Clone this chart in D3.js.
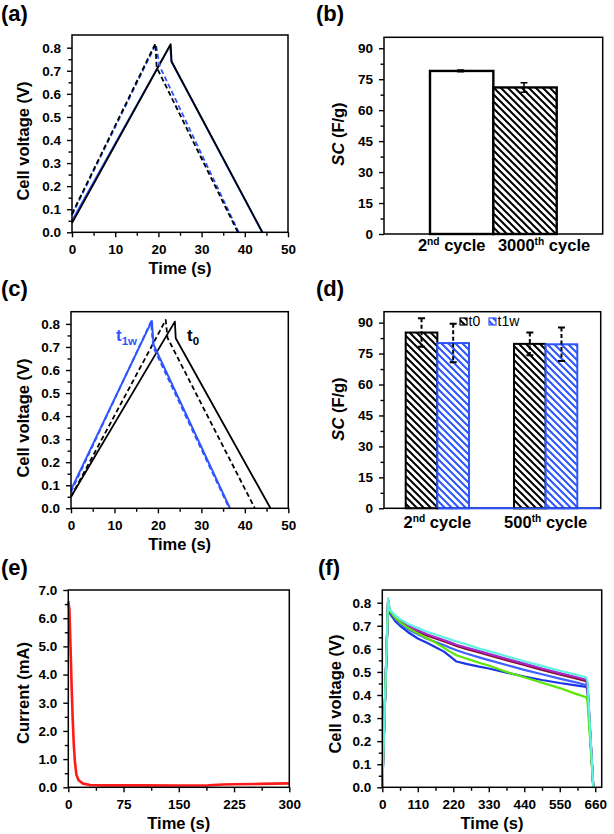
<!DOCTYPE html>
<html><head><meta charset="utf-8">
<script src="https://cdn.jsdelivr.net/npm/d3@7"></script>
<style>
body{margin:0;background:#fff;}
svg{display:block;}
</style></head><body>
<script>
// ---------------- DATA ----------------
const voltTicks = [0, 0.1, 0.2, 0.3, 0.4, 0.5, 0.6, 0.7, 0.8];
const voltMinor = [0.05, 0.15, 0.25, 0.35, 0.45, 0.55, 0.65, 0.75];
const timeTicksAC = [0, 10, 20, 30, 40, 50];
const timeMinorAC = [5, 15, 25, 35, 45];
const scTicks = [0, 15, 30, 45, 60, 75, 90];
const scMinor = [7.5, 22.5, 37.5, 52.5, 67.5, 82.5];
const timeTicksE = [0, 75, 150, 225, 300];
const timeMinorE = [37.5, 112.5, 187.5, 262.5];
const currentTicks = [0, 1, 2, 3, 4, 5, 6, 7];
const currentMinor = [0.5, 1.5, 2.5, 3.5, 4.5, 5.5, 6.5];
const timeTicksF = [0, 110, 220, 330, 440, 550, 660];
const timeMinorF = [55, 165, 275, 385, 495, 605];

// (a) galvanostatic charge/discharge [time s, voltage V]
const aBlueSolid   = [[0, 0.05], [22.7, 0.81], [23.0, 0.74], [44.0, 0]];
const aBlackSolid  = [[0, 0.04], [22.85, 0.815], [23.05, 0.74], [44.1, 0]];
const aBlueDashed  = [[0, 0.075], [19.4, 0.815], [20.3, 0.72], [38.6, 0]];
const aBlackDashed = [[0, 0.08], [19.3, 0.818], [19.6, 0.715], [38.4, 0]];

// (b) specific capacitance
const bCategories = ["2nd", "3000th"];
const bLabels = [["2", "nd"], ["3000", "th"]];
const bValues = [79, 71];
const bErrors = [0.4, 2.3];

// (c) t0 vs t1w
const cBlackSolid  = [[0, 0.05], [23.9, 0.81], [24.1, 0.738], [45.9, 0]];
const cBlackDashed = [[0, 0.05], [21.8, 0.817], [22.2, 0.74], [42.3, 0]];
const cBlueDashed  = [[0, 0.07], [18.4, 0.81], [18.9, 0.70], [36.4, 0]];
const cBlueSolid   = [[0, 0.08], [18.6, 0.813], [19.0, 0.71], [36.6, 0]];

// (d) grouped bars
const dGroups = ["2nd", "500th"];
const dLabels = [["2", "nd"], ["500", "th"]];
const dSeries = ["t0", "t1w"];
const dT0 = [85.2, 79.7];
const dT0Err = [6.9, 5.5];
const dT1w = [80.1, 79.5];
const dT1wErr = [9.3, 8.1];

// (e) current vs time
const eTime    = [0, 1.5, 3, 4.5, 6, 7.5, 9, 11, 14, 20, 30, 50, 100, 150, 190, 210, 225, 260, 300];
const eCurrent = [6.6, 6.3, 5.0, 3.6, 2.4, 1.5, 0.9, 0.45, 0.25, 0.13, 0.08, 0.07, 0.07, 0.065, 0.07, 0.10, 0.11, 0.12, 0.14];

// (f) long discharge curves
const fTime = [0, 18, 23, 40, 55, 80, 110, 140, 165, 190, 210, 230, 260, 300, 330, 385, 440, 495, 550, 600, 632, 636, 654];
const fDarkBlue  = [0, 0.80, 0.754, 0.72, 0.70, 0.672, 0.645, 0.625, 0.607, 0.589, 0.567, 0.545, 0.535, 0.523, 0.515, 0.497, 0.480, 0.465, 0.452, 0.442, 0.435, 0.42, 0];
const fRoyalBlue = [0, 0.81, 0.758, 0.728, 0.708, 0.685, 0.663, 0.643, 0.630, 0.617, 0.605, 0.594, 0.580, 0.563, 0.551, 0.530, 0.509, 0.490, 0.471, 0.455, 0.443, 0.43, 0];
const fMaroon    = [0, 0.81, 0.762, 0.735, 0.716, 0.695, 0.675, 0.657, 0.645, 0.633, 0.623, 0.613, 0.600, 0.584, 0.572, 0.551, 0.530, 0.509, 0.489, 0.472, 0.460, 0.44, 0];
const fMagenta   = [0, 0.81, 0.765, 0.738, 0.72, 0.70, 0.68, 0.662, 0.65, 0.638, 0.628, 0.618, 0.606, 0.59, 0.578, 0.557, 0.536, 0.515, 0.495, 0.478, 0.466, 0.45, 0];
const fGreen     = [0, 0.81, 0.765, 0.735, 0.715, 0.69, 0.667, 0.645, 0.627, 0.605, 0.588, 0.572, 0.558, 0.540, 0.528, 0.50, 0.477, 0.453, 0.43, 0.405, 0.39, 0.37, 0];
const fCyan      = [0, 0.82, 0.77, 0.745, 0.728, 0.708, 0.690, 0.673, 0.662, 0.650, 0.641, 0.632, 0.620, 0.601, 0.590, 0.568, 0.546, 0.526, 0.505, 0.488, 0.477, 0.46, 0];

// ---------------- LAYOUT / STYLE ----------------
const FONT = '"Liberation Sans", Arial, Helvetica, sans-serif';
const BLUE = "#2d55ff";
const svg = d3.select("body").append("svg").attr("width", 614).attr("height", 834)
  .style("font-family", FONT);

const F = {
  a: {l: 72, r: 288, t: 35, b: 232.3},
  b: {l: 384, r: 602.7, t: 37.3, b: 234},
  c: {l: 71, r: 288.3, t: 311.7, b: 508.3},
  d: {l: 384, r: 600.7, t: 311.7, b: 508.3},
  e: {l: 68.3, r: 289.3, t: 590, b: 787.3},
  f: {l: 382.3, r: 601.7, t: 590, b: 787.3}
};

const defs = svg.append("defs");
function hatch(id, color) {
  const p = defs.append("pattern").attr("id", id).attr("patternUnits", "userSpaceOnUse")
    .attr("width", 7).attr("height", 7);
  p.append("rect").attr("width", 7).attr("height", 7).attr("fill", "#fff");
  p.append("path").attr("d", "M-1,-1 L8,8 M-1,6 L1,8 M6,-1 L8,1")
    .attr("stroke", color).attr("stroke-width", 2);
}
hatch("hK", "#000");
hatch("hB", BLUE);

function styleAxis(s) {
  s.select(".domain").remove();
  s.selectAll("line").attr("stroke", "#000").attr("stroke-width", 1.4);
  s.selectAll("text").attr("font-family", FONT).attr("font-weight", "bold")
    .attr("font-size", 13.5).attr("fill", "#000");
}

function axes(f, x, y, o) {
  const g = svg.append("g");
  if (o.xt) {
    g.append("g").attr("transform", `translate(0,${f.b})`)
      .call(d3.axisBottom(x).tickValues(o.xt).tickSize(5).tickPadding(7).tickFormat(o.xf)).call(styleAxis);
    g.append("g").attr("transform", `translate(0,${f.b})`)
      .call(d3.axisBottom(x).tickValues(o.xm).tickSize(3.5).tickFormat("")).call(styleAxis);
  }
  g.append("g").attr("transform", `translate(${f.l},0)`)
    .call(d3.axisLeft(y).tickValues(o.yt).tickSize(5).tickPadding(6).tickFormat(o.yf)).call(styleAxis);
  g.append("g").attr("transform", `translate(${f.l},0)`)
    .call(d3.axisLeft(y).tickValues(o.ym).tickSize(3.5).tickFormat("")).call(styleAxis);
}

function frame(f) {
  svg.append("rect").attr("x", f.l).attr("y", f.t).attr("width", f.r - f.l).attr("height", f.b - f.t)
    .attr("fill", "none").attr("stroke", "#000").attr("stroke-width", 1.5);
}

function panelLabel(txt, x, y) {
  svg.append("text").attr("x", x).attr("y", y).attr("font-size", 22).attr("font-weight", "bold").text(txt);
}
function xTitle(f, txt) {
  svg.append("text").attr("x", (f.l + f.r) / 2).attr("y", f.b + 42).attr("text-anchor", "middle")
    .attr("font-size", 16.5).attr("font-weight", "bold").text(txt);
}
function yTitle(x, y, parts) {
  const t = svg.append("text").attr("transform", `translate(${x},${y}) rotate(-90)`)
    .attr("text-anchor", "middle").attr("font-size", 16.5).attr("font-weight", "bold");
  parts.forEach(p => t.append("tspan").attr("font-style", p[1] ? "italic" : "normal").text(p[0]));
}
function catLabel(x, y, parts, size) {
  const t = svg.append("text").attr("x", x).attr("y", y).attr("text-anchor", "middle")
    .attr("font-size", size).attr("font-weight", "bold");
  t.append("tspan").text(parts[0]);
  t.append("tspan").attr("font-size", size * 0.62).attr("dy", -size * 0.38).text(parts[1]);
  t.append("tspan").attr("dy", size * 0.38).text(" cycle");
}

const f1 = d3.format(".1f");
const line = (x, y) => d3.line().x(d => x(d[0])).y(d => y(d[1]));
function drawLine(data, x, y, color, dashed, w) {
  svg.append("path").attr("d", line(x, y)(data)).attr("fill", "none").attr("stroke", color)
    .attr("stroke-width", w || 1.8).attr("stroke-dasharray", dashed ? "5,3" : null)
    .attr("stroke-linejoin", "round");
}

// ---------------- (a) ----------------
{
  const f = F.a;
  const x = d3.scaleLinear().domain([0, 50]).range([f.l, f.r]);
  const y = d3.scaleLinear().domain([0, 0.855]).range([f.b, f.t]);
  drawLine(aBlueSolid, x, y, BLUE, false);
  drawLine(aBlackSolid, x, y, "#000", false);
  drawLine(aBlueDashed, x, y, BLUE, true);
  drawLine(aBlackDashed, x, y, "#000", true);
  axes(f, x, y, {xt: timeTicksAC, xm: timeMinorAC, xf: d3.format("d"), yt: voltTicks, ym: voltMinor, yf: f1});
  frame(f);
  panelLabel("(a)", 1, 21);
  xTitle(f, "Time (s)");
  yTitle(29, 141, [["Cell voltage (V)", false]]);
}

// ---------------- (b) ----------------
{
  const f = F.b;
  const x = d3.scaleBand().domain(bCategories).range([430, 556.7]).padding(0);
  const y = d3.scaleLinear().domain([0, 95.3]).range([f.b, f.t]);
  const fills = ["#fff", "url(#hK)"];
  bCategories.forEach((c, i) => {
    svg.append("rect").attr("x", x(c)).attr("y", y(bValues[i])).attr("width", x.bandwidth())
      .attr("height", y(0) - y(bValues[i])).attr("fill", fills[i]).attr("stroke", "#000").attr("stroke-width", 2.4);
  });
  bCategories.forEach((c, i) => {
    const cx = x(c) + x.bandwidth() / 2 - 1;
    const y1 = y(bValues[i] + bErrors[i]), y2 = y(bValues[i] - bErrors[i]);
    svg.append("path").attr("d", `M${cx},${y1}V${y2}M${cx - 3.5},${y1}H${cx + 3.5}M${cx - 3.5},${y2}H${cx + 3.5}`)
      .attr("stroke", "#000").attr("stroke-width", 1.5).attr("fill", "none");
  });
  axes(f, null, y, {yt: scTicks, ym: scMinor, yf: d3.format("d")});
  frame(f);
  const lx = [x(bCategories[0]) + x.bandwidth() / 2 - 10, x(bCategories[1]) + x.bandwidth() / 2 + 19];
  bLabels.forEach((p, i) => catLabel(lx[i], 251, p, 16.5));
  panelLabel("(b)", 316, 21);
  yTitle(344, 134, [["SC", true], [" (F/g)", false]]);
}

// ---------------- (c) ----------------
{
  const f = F.c;
  const x = d3.scaleLinear().domain([0, 50]).range([f.l, f.r]);
  const y = d3.scaleLinear().domain([0, 0.853]).range([f.b, f.t]);
  drawLine(cBlackSolid, x, y, "#000", false);
  drawLine(cBlackDashed, x, y, "#000", true);
  drawLine(cBlueDashed, x, y, BLUE, true);
  drawLine(cBlueSolid, x, y, BLUE, false, 2);
  axes(f, x, y, {xt: timeTicksAC, xm: timeMinorAC, xf: d3.format("d"), yt: voltTicks, ym: voltMinor, yf: f1});
  frame(f);
  panelLabel("(c)", 1, 296);
  xTitle(f, "Time (s)");
  yTitle(29, 418, [["Cell voltage (V)", false]]);
  const t1 = svg.append("text").attr("x", 116).attr("y", 341).attr("font-size", 17).attr("font-weight", "bold").attr("fill", BLUE);
  t1.append("tspan").text("t");
  t1.append("tspan").attr("font-size", 11.5).attr("dy", 4).text("1w");
  const t0 = svg.append("text").attr("x", 187).attr("y", 341).attr("font-size", 17).attr("font-weight", "bold").attr("fill", "#000");
  t0.append("tspan").text("t");
  t0.append("tspan").attr("font-size", 11.5).attr("dy", 4).text("0");
}

// ---------------- (d) ----------------
{
  const f = F.d;
  const x0 = d3.scaleBand().domain(dGroups).range([405.7, 577.3]).paddingInner(0.4155).paddingOuter(0);
  const x1 = d3.scaleBand().domain(dSeries).range([0, x0.bandwidth()]).padding(0);
  const y = d3.scaleLinear().domain([0, 95.3]).range([f.b, f.t]);
  const vals = {t0: dT0, t1w: dT1w}, errs = {t0: dT0Err, t1w: dT1wErr};
  const fill = {t0: "url(#hK)", t1w: "url(#hB)"}, stroke = {t0: "#000", t1w: BLUE};
  // blue baseline of t1w series
  svg.append("line").attr("x1", x0(dGroups[0]) + x1("t1w")).attr("x2", f.r).attr("y1", f.b).attr("y2", f.b)
    .attr("stroke", BLUE).attr("stroke-width", 2);
  dGroups.forEach((g, i) => {
    dSeries.forEach(s => {
      const v = vals[s][i];
      svg.append("rect").attr("x", x0(g) + x1(s)).attr("y", y(v)).attr("width", x1.bandwidth())
        .attr("height", y(0) - y(v)).attr("fill", fill[s]).attr("stroke", stroke[s]).attr("stroke-width", 2);
    });
  });
  axes(f, null, y, {yt: scTicks, ym: scMinor, yf: d3.format("d")});
  // frame without bottom blue part
  frame(f);
  svg.append("line").attr("x1", x0(dGroups[0]) + x1("t1w") + 1).attr("x2", f.r - 1).attr("y1", f.b).attr("y2", f.b)
    .attr("stroke", BLUE).attr("stroke-width", 1.6);
  dGroups.forEach((g, i) => {
    dSeries.forEach(s => {
      const cx = x0(g) + x1(s) + x1.bandwidth() / 2;
      const v = vals[s][i], e = errs[s][i];
      const y1 = y(v + e), y2 = y(v - e);
      svg.append("path").attr("d", `M${cx},${y1}V${y2}`).attr("stroke", "#000").attr("stroke-width", 2)
        .attr("stroke-dasharray", "4,2.5");
      svg.append("path").attr("d", `M${cx - 3.5},${y1}H${cx + 3.5}M${cx - 3.5},${y2}H${cx + 3.5}`)
        .attr("stroke", "#000").attr("stroke-width", 2);
    });
  });
  // legend
  const lg = [{s: "t0", x: 460}, {s: "t1w", x: 489}];
  lg.forEach(d => {
    svg.append("rect").attr("x", d.x).attr("y", 318).attr("width", 7).attr("height", 7)
      .attr("fill", fill[d.s]).attr("stroke", stroke[d.s]).attr("stroke-width", 1.2);
    svg.append("text").attr("x", d.x + 8.5).attr("y", 325.5).attr("font-size", 14).text(d.s);
  });
  dLabels.forEach((p, i) => catLabel(x0(dGroups[i]) + x0.bandwidth() / 2, 528, p, 16.5));
  panelLabel("(d)", 316, 296);
  yTitle(344, 409, [["SC", true], [" (F/g)", false]]);
}

// ---------------- (e) ----------------
{
  const f = F.e;
  const x = d3.scaleLinear().domain([0, 300]).range([f.l, f.r]);
  const y = d3.scaleLinear().domain([0, 7]).range([f.b, f.t]);
  drawLine(eTime.map((t, i) => [t, eCurrent[i]]), x, y, "#ff1a1a", false, 2.6);
  axes(f, x, y, {xt: timeTicksE, xm: timeMinorE, xf: d3.format("d"), yt: currentTicks, ym: currentMinor, yf: f1});
  frame(f);
  panelLabel("(e)", 1, 575);
  xTitle(f, "Time (s)");
  yTitle(29, 693, [["Current (mA)", false]]);
}

// ---------------- (f) ----------------
{
  const f = F.f;
  const x = d3.scaleLinear().domain([0, 680]).range([f.l, f.r]);
  const y = d3.scaleLinear().domain([0, 0.855]).range([f.b, f.t]);
  const series = [
    [fDarkBlue, "#1a35e6"], [fRoyalBlue, "#4060ff"], [fMaroon, "#8b0a2a"],
    [fMagenta, "#a829c8"], [fGreen, "#5ae600"], [fCyan, "#5ff2e2"]
  ];
  series.forEach(([vals, col]) => drawLine(fTime.map((t, i) => [t, vals[i]]), x, y, col, false, 2.2));
  axes(f, x, y, {xt: timeTicksF, xm: timeMinorF, xf: d3.format("d"), yt: voltTicks, ym: voltMinor, yf: f1});
  frame(f);
  panelLabel("(f)", 318, 575);
  xTitle(f, "Time (s)");
  yTitle(341, 694, [["Cell voltage (V)", false]]);
}
</script>
</body></html>
